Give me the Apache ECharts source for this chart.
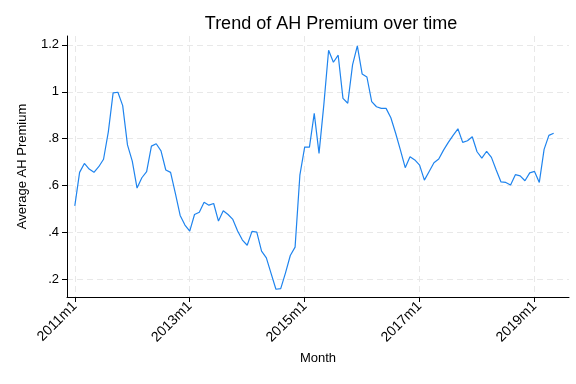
<!DOCTYPE html>
<html>
<head>
<meta charset="utf-8">
<script src="https://cdn.jsdelivr.net/npm/echarts@6/dist/echarts.min.js"></script>
<style>
  html, body { margin: 0; padding: 0; background: #fff; }
  #chart { width: 576px; height: 384px; }
</style>
</head>
<body>
<div id="chart"></div>
<script>
// monthly average AH premium, 2011m1 .. 2019m5 (month index 0 = 2011m1)
const premium = [
  0.513, 0.656, 0.694, 0.670, 0.656, 0.680, 0.712, 0.829, 0.995, 0.998,
  0.941, 0.773, 0.704, 0.589, 0.633, 0.659, 0.768, 0.778, 0.748, 0.666,
  0.656, 0.566, 0.472, 0.431, 0.405, 0.476, 0.486, 0.528, 0.516, 0.523,
  0.448, 0.492, 0.476, 0.455, 0.406, 0.367, 0.345, 0.404, 0.401, 0.320,
  0.291, 0.224, 0.157, 0.160, 0.227, 0.301, 0.337, 0.644, 0.764, 0.764,
  0.908, 0.737, 0.944, 1.177, 1.126, 1.156, 0.972, 0.951, 1.115, 1.196,
  1.076, 1.063, 0.958, 0.936, 0.929, 0.929, 0.889, 0.823, 0.751, 0.676,
  0.723, 0.709, 0.687, 0.623, 0.660, 0.697, 0.713, 0.751, 0.784, 0.814,
  0.842, 0.784, 0.791, 0.808, 0.744, 0.717, 0.746, 0.720, 0.666, 0.615,
  0.613, 0.602, 0.646, 0.641, 0.620, 0.654, 0.660, 0.613, 0.754, 0.814,
  0.823
];
const xTicks = [0, 24, 48, 72, 96];
const yTicks = [0.2, 0.4, 0.6, 0.8, 1.0, 1.2];

function monthLabel(m) {
  return (2011 + Math.floor(m / 12)) + 'm' + (m % 12 + 1);
}
function stataNum(v) {
  let s = String(Math.round(v * 10) / 10);
  return s.replace(/^0\./, '.');
}

const points = premium.map((v, i) => [i, v]);

const chart = echarts.init(document.getElementById('chart'));
const font = 'Liberation Sans, Arial, sans-serif';
chart.setOption({
  backgroundColor: '#fff',
  animation: false,
  textStyle: { fontFamily: font },
  title: {
    text: 'Trend of AH Premium over time',
    left: 326, top: 10, textAlign: 'center',
    textStyle: { fontFamily: font, fontSize: 18, fontWeight: 'normal', color: '#000' }
  },
  grid: { left: 67, right: 7, top: 36, bottom: 87 },
  xAxis: {
    type: 'value',
    min: -1.63, max: 103.2,
    name: 'Month', nameLocation: 'middle', nameGap: 55,
    nameTextStyle: { fontFamily: font, fontSize: 13, color: '#000' },
    axisLine: { show: true, onZero: false, lineStyle: { color: '#000', width: 1 } },
    axisTick: { show: true, length: 5, customValues: xTicks, lineStyle: { color: '#000' } },
    axisLabel: {
      customValues: xTicks, rotate: 45, margin: 7,
      fontFamily: font, fontSize: 14, color: '#000',
      formatter: v => monthLabel(v)
    },
    splitLine: { show: true, lineStyle: { color: '#e8e8e8', type: [6, 4], width: 1 } }
  },
  yAxis: {
    type: 'value',
    min: 0.124, max: 1.238,
    name: 'Average AH Premium', nameLocation: 'middle', nameGap: 38,
    nameTextStyle: { fontFamily: font, fontSize: 13, color: '#000' },
    axisLine: { show: true, onZero: false, lineStyle: { color: '#000', width: 1 } },
    axisTick: { show: true, length: 5, customValues: yTicks, lineStyle: { color: '#000' } },
    axisLabel: {
      customValues: yTicks, margin: 8,
      fontFamily: font, fontSize: 13, color: '#000',
      formatter: v => stataNum(v)
    },
    splitLine: { show: true, lineStyle: { color: '#e8e8e8', type: [6, 4], width: 1 } }
  },
  series: [{
    type: 'line',
    data: points,
    showSymbol: false,
    lineStyle: { color: '#1f84ee', width: 1.2 },
    itemStyle: { color: '#1f84ee' }
  }]
});
</script>
</body>
</html>
